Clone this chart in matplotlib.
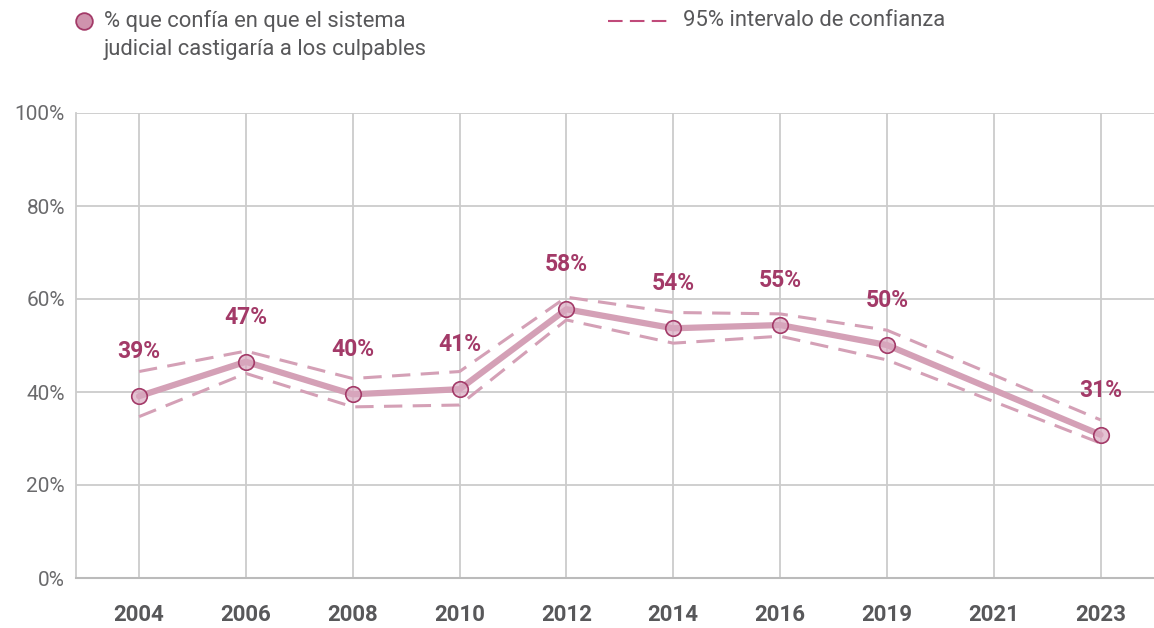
import numpy as np
import matplotlib
matplotlib.use("Agg")
import matplotlib.pyplot as plt
from matplotlib.lines import Line2D

plt.rcParams['font.family'] = ['Roboto', 'DejaVu Sans']

years = ['2004', '2006', '2008', '2010', '2012', '2014', '2016', '2019', '2021', '2023']
valor = [39.1, 46.5, 39.5, 40.6, 57.8, 53.7, 54.4, 50.1, None, 30.8]
superior = [44.4, 48.8, 42.9, 44.4, 60.4, 57.1, 56.8, 53.3, None, 34.0]
inferior = [34.7, 44.0, 36.8, 37.2, 55.5, 50.5, 52.0, 46.9, None, 29.0]
etiquetas = ['39%', '47%', '40%', '41%', '58%', '54%', '55%', '50%', None, '31%']

line_col = '#d4a0b6'
dark_col = '#a33a68'
grey_txt = '#58585a'

fig = plt.figure(figsize=(11.54, 6.28), dpi=100)
ax = fig.add_axes([76 / 1154, 1 - 578 / 628, 1 - 76 / 1154, 465 / 628])

idx = [i for i, v in enumerate(valor) if v is not None]
xs = np.array(idx)
v = np.array([valor[i] for i in idx])
up = np.array([superior[i] for i in idx])
lo = np.array([inferior[i] for i in idx])

ax.plot(xs, up, color=line_col, lw=2.2, dashes=(6, 3.4), zorder=3)
ax.plot(xs, lo, color=line_col, lw=2.2, dashes=(6, 3.4), zorder=3)
ax.plot(xs, v, color=line_col, lw=4.5, zorder=4, solid_capstyle='round')
ax.scatter(xs, v, s=125, facecolor=(0.85, 0.66, 0.75, 0.7), edgecolor=dark_col,
           linewidth=1.2, zorder=5)

for i in idx:
    ax.annotate(etiquetas[i], (i, valor[i]), xytext=(0, 32), textcoords='offset points',
                ha='center', va='center', fontsize=16.5, fontweight='bold', color=dark_col)

ax.set_xlim(-0.59, 9.5)
ax.set_ylim(0, 100)
ax.set_yticks([0, 20, 40, 60, 80, 100])
ax.set_yticklabels(['0%', '20%', '40%', '60%', '80%', '100%'])
ax.set_xticks(range(len(years)))
ax.set_xticklabels(years, fontweight='bold')
ax.tick_params(axis='x', length=0, pad=19, labelsize=16, labelcolor=grey_txt)
ax.tick_params(axis='y', length=0, pad=8, labelsize=15, labelcolor='#6a6a6c')
ax.grid(True, color='#cccccc', lw=1.3)
ax.set_axisbelow(True)
for s in ['top', 'right']:
    ax.spines[s].set_visible(False)
ax.spines['left'].set_color('#cccccc')
ax.spines['left'].set_linewidth(1.3)
ax.spines['bottom'].set_color('#bbbbbb')
ax.spines['bottom'].set_linewidth(1.5)

# leyenda
fig.add_artist(Line2D([84 / 1154], [1 - 21 / 628], marker='o', markersize=12,
                      markerfacecolor='#cf93ad', markeredgecolor=dark_col,
                      markeredgewidth=1.3, transform=fig.transFigure))
fig.text(104 / 1154, 1 - 21 / 628, '% que confía en que el sistema', fontsize=15.8,
         color=grey_txt, va='center')
fig.text(104 / 1154, 1 - 50 / 628, 'judicial castigaría a los culpables', fontsize=15.8,
         color=grey_txt, va='center')
fig.add_artist(Line2D([608 / 1154, 668 / 1154], [1 - 21 / 628, 1 - 21 / 628],
                      color='#c04a7a', lw=1.5, dashes=(7, 3.5), transform=fig.transFigure))
fig.text(683 / 1154, 1 - 21 / 628, '95% intervalo de confianza', fontsize=15.8,
         color=grey_txt, va='center')

fig.savefig('out.png', dpi=100)
